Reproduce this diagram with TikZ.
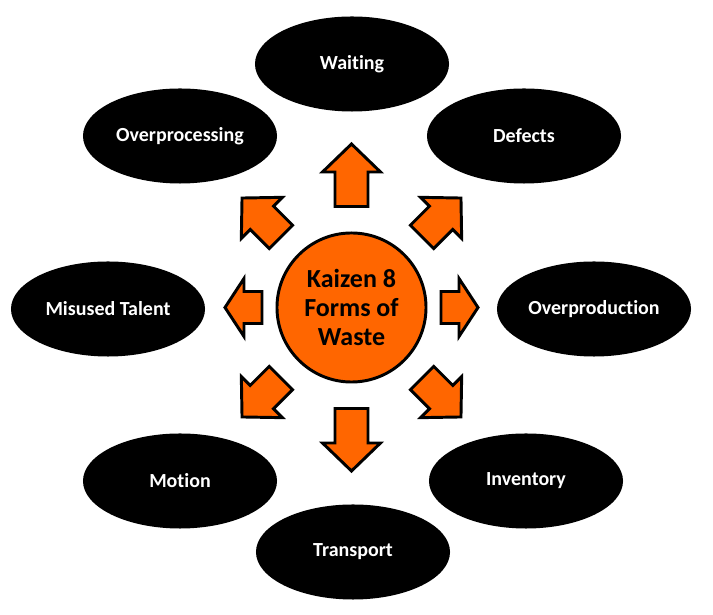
\documentclass[tikz,border=0pt]{standalone}
\usepackage{fontspec}
\setmainfont[Ligatures=NoCommon]{Carlito}
\usetikzlibrary{shapes.geometric}
\definecolor{wasteorange}{HTML}{FF6600}

\begin{document}
\begin{tikzpicture}[x=0.025cm,y=-0.025cm,
  waste/.style={ellipse,fill=black,text=white,minimum width=4.85cm,minimum height=2.375cm,
    inner sep=0pt,font=\bfseries\fontsize{14.2}{17}\selectfont},
  hub/.style={circle,draw=black,line width=2.1pt,fill=wasteorange,minimum size=3.725cm,
    inner sep=0pt,align=center,font=\bfseries\fontsize{18.5}{20.6}\selectfont},
  blockarrow/.style={draw=black,line width=2.1pt,fill=wasteorange}]
  \useasboundingbox (0,0) rectangle (713,615);
  \node[hub] (kaizen) at (351.5,307.5) {Kaizen 8\\Forms of\\Waste};
  \node[waste] (waiting) at (352,64) {Waiting};
  \node[waste] (defects) at (524,136) {Defects};
  \node[waste] (overprod) at (594,309) {Overproduction};
  \node[waste] (inventory) at (526,481) {Inventory};
  \node[waste] (transport) at (353,552) {Transport};
  \node[waste] (motion) at (180,481) {Motion};
  \node[waste] (talent) at (108,309) {Misused Talent};
  \node[waste] (overproc) at (180,136) {Overprocessing};
  % block arrows round the hub
  \foreach \ang/\r/\len/\hd/\sh in {90/101/62.5/28/16.5,270/101/62.5/28/16.5,
      0/89.5/37/19/16,180/89.5/37/19/16,
      45/99.8/55/28/16.5,135/99.8/55/28/16.5,225/99.8/55/28/16.5,315/99.8/55/28/16.5} {
    \draw[blockarrow,shift={(kaizen.center)},rotate=\ang]
      (\r,-\sh) -- ({\r+\len-\hd},-\sh) -- ({\r+\len-\hd},-29) -- ({\r+\len},0)
      -- ({\r+\len-\hd},29) -- ({\r+\len-\hd},\sh) -- (\r,\sh) -- cycle;
  }
\end{tikzpicture}
\end{document}
